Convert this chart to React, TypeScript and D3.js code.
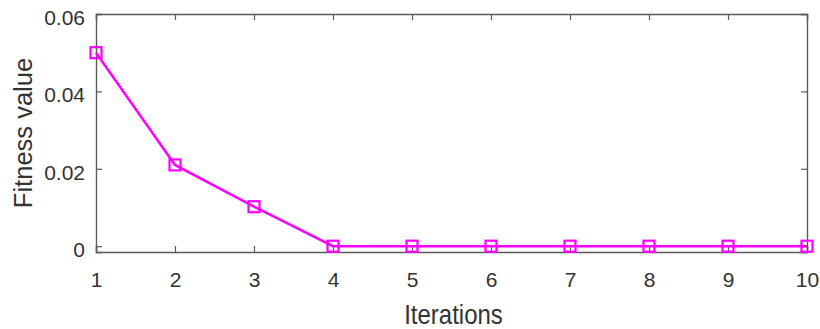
import { useEffect, useRef } from 'react';
import * as d3 from 'd3';

// Data
const iterations = [1, 2, 3, 4, 5, 6, 7, 8, 9, 10];
const fitness = [0.05, 0.021, 0.0102, 0, 0, 0, 0, 0, 0, 0];
const yTicks = [0, 0.02, 0.04, 0.06];
const yTickLabels = ['0', '0.02', '0.04', '0.06'];

export default function App() {
    const svgRef = useRef<SVGSVGElement>(null);

    useEffect(() => {
        if (!svgRef.current) return;
        const svg = d3.select(svgRef.current);
        svg.selectAll('*').remove();

        const width = 820;
        const height = 329;
        const margin = { top: 14, right: 13, bottom: 77, left: 96 };
        const innerWidth = width - margin.left - margin.right;
        const innerHeight = height - margin.top - margin.bottom;
        const axisColor = '#5a5a5a';
        const font = 'Arial, "Liberation Sans", Helvetica, sans-serif';

        const x = d3.scaleLinear().domain([1, 10]).range([0, innerWidth]);
        const y = d3.scaleLinear().domain([-0.0015, 0.06]).range([innerHeight, 0]);

        const g = svg.append('g')
            .attr('transform', `translate(${margin.left},${margin.top})`);

        // Bottom axis with inward ticks
        g.append('g')
            .attr('transform', `translate(0,${innerHeight})`)
            .call(d3.axisBottom(x).tickValues(iterations).tickSize(-6).tickPadding(20).tickFormat(d3.format('d')))
            .call(a => a.select('.domain').attr('stroke', axisColor).attr('stroke-width', 1.4))
            .call(a => a.selectAll('.tick line').attr('stroke', axisColor).attr('stroke-width', 1.2))
            .call(a => a.selectAll('.tick text')
                .attr('fill', '#333')
                .attr('font-size', '21px')
                .attr('font-family', font));

        // Top axis ticks
        g.append('g')
            .call(d3.axisTop(x).tickValues(iterations).tickSize(-6).tickFormat(() => ''))
            .call(a => a.select('.domain').attr('stroke', axisColor).attr('stroke-width', 1.4))
            .call(a => a.selectAll('.tick line').attr('stroke', axisColor).attr('stroke-width', 1.2));

        // Left axis
        g.append('g')
            .call(d3.axisLeft(y).tickValues(yTicks).tickSize(-6).tickPadding(11)
                .tickFormat((_, i) => yTickLabels[i]))
            .call(a => a.select('.domain').attr('stroke', axisColor).attr('stroke-width', 1.4))
            .call(a => a.selectAll('.tick line').attr('stroke', axisColor).attr('stroke-width', 1.2))
            .call(a => a.selectAll('.tick text')
                .attr('fill', '#333')
                .attr('dy', '0.5em')
                .attr('font-size', '21px')
                .attr('font-family', font));

        // Right axis ticks
        g.append('g')
            .attr('transform', `translate(${innerWidth},0)`)
            .call(d3.axisRight(y).tickValues(yTicks).tickSize(-6).tickFormat(() => ''))
            .call(a => a.select('.domain').attr('stroke', axisColor).attr('stroke-width', 1.4))
            .call(a => a.selectAll('.tick line').attr('stroke', axisColor).attr('stroke-width', 1.2));

        const points = iterations.map((it, i) => ({ it, v: fitness[i] }));

        const line = d3.line<{ it: number; v: number }>()
            .x(d => x(d.it))
            .y(d => y(d.v));

        g.append('path')
            .datum(points)
            .attr('d', line)
            .attr('fill', 'none')
            .attr('stroke', '#ff00ff')
            .attr('stroke-width', 2.5);

        const size = 11;
        g.selectAll('.marker')
            .data(points)
            .enter()
            .append('rect')
            .attr('class', 'marker')
            .attr('x', d => x(d.it) - size / 2)
            .attr('y', d => y(d.v) - size / 2)
            .attr('width', size)
            .attr('height', size)
            .attr('fill', 'none')
            .attr('stroke', '#ff00ff')
            .attr('stroke-width', 2.2);

        // Axis labels
        svg.append('text')
            .attr('transform', `translate(${margin.left + innerWidth / 2 + 2},324) scale(1,1.18)`)
            .attr('text-anchor', 'middle')
            .attr('font-size', '24px')
            .attr('font-family', font)
            .attr('fill', '#333')
            .text('Iterations');

        svg.append('text')
            .attr('transform', `translate(32,133) rotate(-90)`)
            .attr('text-anchor', 'middle')
            .attr('font-size', '25.5px')
            .attr('font-family', font)
            .attr('fill', '#333')
            .text('Fitness value');
    }, []);

    return (
        <svg
            ref={svgRef}
            width={820}
            height={329}
            style={{ position: 'absolute', left: 0, top: 0, background: '#fff' }}
        />
    );
}
